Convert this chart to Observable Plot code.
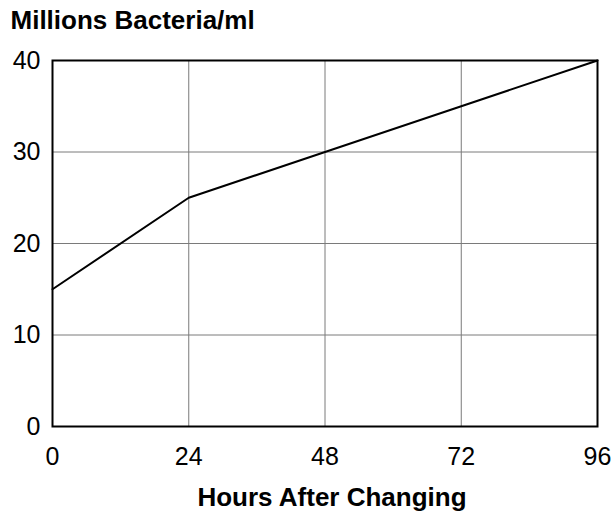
<!DOCTYPE html>
<html>
<head>
<meta charset="utf-8">
<script src="https://cdn.jsdelivr.net/npm/d3@7"></script>
<script src="https://cdn.jsdelivr.net/npm/@observablehq/plot@0.6"></script>
<style>
  html, body { margin: 0; padding: 0; background: #fff; }
  #chart svg { display: block; }
</style>
</head>
<body>
<div id="chart"></div>
<script>
const hours = [0, 24, 48, 72, 96];
const bacteria = [15, 25, 30, 35, 40];
const xTicks = [0, 24, 48, 72, 96];
const yTicks = [0, 10, 20, 30, 40];
const yTitle = "Millions Bacteria/ml";
const xTitle = "Hours After Changing";

const data = hours.map((h, i) => ({hours: h, bacteria: bacteria[i]}));

const chart = Plot.plot({
  width: 613,
  height: 512,
  marginLeft: 52,
  marginRight: 16,
  marginTop: 60,
  marginBottom: 86,
  style: {fontFamily: "'Liberation Sans', Arial, sans-serif", fontSize: "25px", color: "#000", background: "#fff"},
  x: {domain: [0, 96]},
  y: {domain: [0, 40]},
  marks: [
    Plot.gridX(xTicks, {stroke: "#7a7a7a", strokeOpacity: 1, strokeWidth: 1}),
    Plot.gridY(yTicks, {stroke: "#7a7a7a", strokeOpacity: 1, strokeWidth: 1}),
    Plot.axisY(yTicks, {tickSize: 0, tickPadding: 12, label: null, fontSize: 25}),
    Plot.axisX(xTicks, {tickSize: 0, tickPadding: 21, label: null, fontSize: 25}),
    Plot.line(data, {x: "hours", y: "bacteria", stroke: "#000", strokeWidth: 2}),
    Plot.frame({stroke: "#000", strokeWidth: 2}),
    Plot.text([yTitle], {frameAnchor: "top-left", textAnchor: "start", lineAnchor: "bottom", dx: -42, dy: -32, fontWeight: "bold", fontSize: 26}),
    Plot.text([xTitle], {frameAnchor: "bottom", textAnchor: "middle", lineAnchor: "bottom", dx: 7, dy: 79, fontWeight: "bold", fontSize: 26})
  ]
});
document.getElementById("chart").appendChild(chart);
</script>
</body>
</html>
